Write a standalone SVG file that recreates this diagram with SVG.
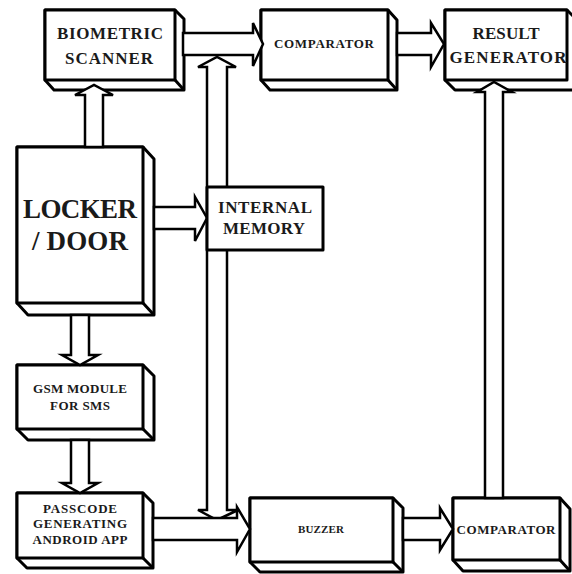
<svg xmlns="http://www.w3.org/2000/svg" width="572" height="574" viewBox="0 0 572 574">
<style>
.box{fill:#fff;stroke:#000;stroke-width:3;stroke-linejoin:round}
.edge{fill:none;stroke:#000;stroke-width:3}
.arr{fill:#fff;stroke:#000;stroke-width:2.5;stroke-linejoin:miter}
text{font-family:'Liberation Serif',serif;font-weight:bold;fill:#1a1a1a;text-anchor:middle}
</style>
<rect width="572" height="574" fill="#fff"/>
<g id="node-biometric">
<path class="box" d="M45,10 H175 L184,19 V90 H54 L45,80 Z"/>
<rect class="box" x="45" y="10" width="130" height="70"/>
<path class="edge" d="M175,80 L184,90"/>
<text x="110" y="39" font-size="17" textLength="106">BIOMETRIC</text>
<text x="109" y="64" font-size="17" textLength="88">SCANNER</text>
</g>
<g id="node-comparator-top">
<path class="box" d="M261,10 H388 L397,20 V90 H270 L261,80 Z"/>
<rect class="box" x="261" y="10" width="127" height="70"/>
<path class="edge" d="M388,80 L397,90"/>
<text x="324" y="48" font-size="13" textLength="100">COMPARATOR</text>
</g>
<g id="node-result">
<path class="box" d="M445,10 H567 L577,20 V90 H455 L445,80 Z"/>
<rect class="box" x="445" y="10" width="122" height="70"/>
<text x="506" y="39" font-size="17" textLength="67">RESULT</text>
<text x="508" y="63" font-size="17" textLength="117">GENERATOR</text>
</g>
<g id="node-locker">
<path class="box" d="M17,147 H143 L154,159 V315 H28 L17,303 Z"/>
<rect class="box" x="17" y="147" width="126" height="156"/>
<path class="edge" d="M143,303 L154,315"/>
<text x="80" y="218" font-size="27" textLength="114">LOCKER</text>
<text x="80" y="250" font-size="27" textLength="96">/ DOOR</text>
</g>
<g id="node-gsm">
<path class="box" d="M17,365 H143 L154,376 V440 H28 L17,429 Z"/>
<rect class="box" x="17" y="365" width="126" height="64"/>
<path class="edge" d="M143,429 L154,440"/>
<text x="80" y="393" font-size="13" textLength="94">GSM MODULE</text>
<text x="80" y="410" font-size="13" textLength="60">FOR SMS</text>
</g>
<g id="node-passcode">
<path class="box" d="M17,493 H143 L153,503 V568 H27 L17,558 Z"/>
<rect class="box" x="17" y="493" width="126" height="65"/>
<path class="edge" d="M143,558 L153,568"/>
<text x="80" y="513" font-size="13" textLength="74">PASSCODE</text>
<text x="80" y="528" font-size="13" textLength="94">GENERATING</text>
<text x="80" y="544" font-size="13" textLength="95">ANDROID APP</text>
</g>
<g id="node-buzzer">
<path class="box" d="M250,498 H393 L403,508 V572 H260 L250,562 Z"/>
<rect class="box" x="250" y="498" width="143" height="64"/>
<path class="edge" d="M393,562 L403,572"/>
<text x="321" y="533" font-size="11" textLength="46">BUZZER</text>
</g>
<g id="node-comparator-bottom">
<path class="box" d="M453,498 H560 L570,509 V571 H463 L453,560 Z"/>
<rect class="box" x="453" y="498" width="107" height="62"/>
<path class="edge" d="M560,560 L570,571"/>
<text x="506" y="534" font-size="13" textLength="99">COMPARATOR</text>
</g>
<g id="connectors">
<path class="arr" d="M207,67 H198 L217,57 L236,67 H227 V510 H238 L217,520 L198,510 H207 Z"/>
<path class="arr" d="M183,33 H253 V23 L263,44 L253,66 V55 H183 Z"/>
<path class="arr" d="M397,33 H431 V23 L444,44 L431,67 V55 H397 Z"/>
<path class="arr" d="M85,147 V95 H75 L94,85 L113,95 H103 V147 Z"/>
<path class="arr" d="M154,207 H195 V197 L207,218 L195,241 V229 H154 Z"/>
<path class="arr" d="M71,315 V355 H62 L80,365 L98,355 H89 V315 Z"/>
<path class="arr" d="M71,440 V483 H62 L80,493 L98,483 H89 V440 Z"/>
<path class="arr" d="M153,518 H237 V507 L250,529 L237,552 V540 H153 Z"/>
<path class="arr" d="M403,518 H440 V508 L453,529 L440,550 V540 H403 Z"/>
<path class="arr" d="M485,498 V92 H477 L494,82 L512,92 H503 V498 Z"/>
</g>
<g id="node-memory">
<rect class="box" x="207" y="187" width="116" height="63"/>
<text x="265" y="213" font-size="17" textLength="94">INTERNAL</text>
<text x="264" y="234" font-size="17" textLength="82">MEMORY</text>
</g>
</svg>
